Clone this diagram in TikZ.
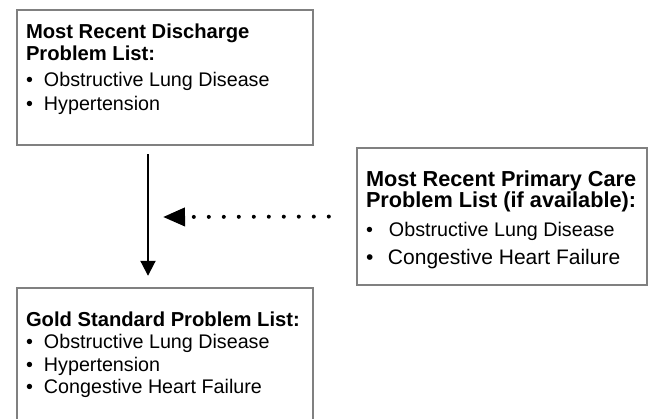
\documentclass[tikz,border=0pt]{standalone}
\usepackage{fontspec}
\setmainfont{Liberation Sans}
\usetikzlibrary{arrows.meta}
\tikzstyle{arrow} = [line width=2pt, -{Triangle[length=15pt,width=15pt]}]
\tikzstyle{dotArrow} = [line width=4pt, line cap=round, dash pattern=on 0pt off 15pt, -{Triangle[length=22pt,width=18pt]}]
\tikzstyle{listBox} = [rectangle, draw=black!50, line width=2.4pt, inner sep=0pt]
\tikzstyle{listText} = [align=left, inner sep=0pt, anchor=north west, font=\fontsize{19.7}{20}\selectfont]
\newcommand{\bul}[1][18pt]{\makebox[#1][l]{•}}
\newcommand{\head}[2][20.2]{{\fontsize{#1}{20}\selectfont\textbf{#2}}}

\begin{document}
\begin{tikzpicture}[x=1pt, y=-1pt]
	\useasboundingbox (0,0) rectangle (655,419);
	\node (discharge) [listBox, minimum width=296pt, minimum height=135pt] at (165,77.5) {};
	\node (primary) [listBox, minimum width=290pt, minimum height=137pt] at (502,216.5) {};
	\node (gold) [listBox, minimum width=296pt, minimum height=140pt] at (165,358) {};
	\node (dischargeText) [listText] at ([shift={(10pt,-15pt)}]discharge.north west) {\head{Most Recent Discharge}\\[2pt]\head{Problem List:}\\[6pt]\bul Obstructive Lung Disease\\[4pt]\bul Hypertension};
	\node (primaryText) [listText] at ([shift={(10pt,-23.5pt)}]primary.north west) {\head[21.7]{Most Recent Primary Care}\\[0.5pt]\head[21.7]{Problem List (if available):}\\[8.5pt]\bul[23pt]Obstructive Lung Disease\\[8pt]{\fontsize{21}{20}\selectfont\bul[22pt]Congestive Heart Failure}};
	\node (goldText) [listText] at ([shift={(10pt,-25pt)}]gold.north west) {\head{Gold Standard Problem List:}\\[2pt]\bul Obstructive Lung Disease\\[3pt]\bul Hypertension\\[2pt]\bul Congestive Heart Failure};
	\coordinate (mergeTip) at (163,217);
	\draw [arrow, shorten <=8pt, shorten >=11pt] ([xshift=-17pt]discharge.south) -- ([xshift=-17pt]gold.north);
	\draw [dotArrow, shorten <=27pt] (primary.west) -- (mergeTip);
\end{tikzpicture}
\end{document}
